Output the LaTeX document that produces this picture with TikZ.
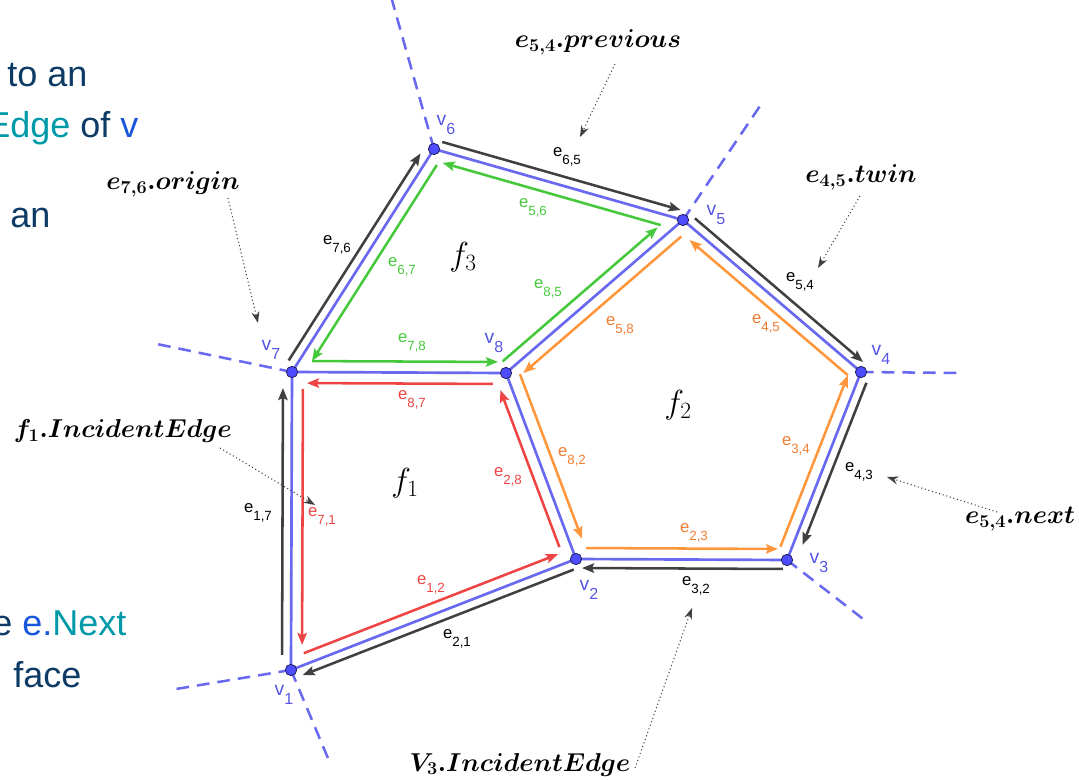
\RequirePackage{fix-cm}
\documentclass[tikz,border=0pt]{standalone}
\usepackage{fontspec}
\setsansfont{Liberation Sans}
\usepackage{bm}
\usetikzlibrary{calc,arrows.meta}
\pgfdeclarelayer{bg}
\pgfsetlayers{bg,main}
\definecolor{gblue}{RGB}{105,105,240}
\definecolor{gblack}{RGB}{64,64,64}
\definecolor{ggreen}{RGB}{70,200,60}
\definecolor{gred}{RGB}{238,68,68}
\definecolor{gorange}{RGB}{255,150,60}
\definecolor{gorangetxt}{RGB}{240,125,50}
\definecolor{vlab}{RGB}{85,85,230}
\definecolor{vfill}{RGB}{77,77,255}
\definecolor{vline}{RGB}{30,30,90}
\definecolor{navytxt}{RGB}{13,59,102}
\definecolor{tealtxt}{RGB}{0,153,168}
\definecolor{bluetxt}{RGB}{26,86,219}
\newcommand\esub[2]{#1\raisebox{-5.5pt}{\fontsize{10}{11}\selectfont #2}}
\newcommand\vsub[2]{#1\raisebox{-6.5pt}{\fontsize{12}{13}\selectfont #2}}
% half-edge: style, from, to, shorten start, shorten end, offset
\newcommand\hseg[6]{\draw[hedge,#1] ($(#2.center)!#4!(#3.center)!#6!90:(#3.center)$) -- ($(#3.center)!#5!(#2.center)!#6!-90:(#2.center)$);}
\tikzset{
  vert/.style={circle, fill=vfill, draw=vline, line width=0.6pt, inner sep=0pt, minimum size=8.5pt},
  medge/.style={gblue, line width=2pt},
  ext/.style={gblue, line width=1.9pt, dash pattern=on 9.5pt off 6pt},
  hedge/.style={line width=1.9pt, -{Stealth[length=9pt,width=7pt,inset=1.5pt]}},
  elab/.style={font=\sffamily\fontsize{12.5}{14}\selectfont, inner sep=0pt},
  vlabel/.style={font=\sffamily\fontsize{14.5}{16}\selectfont, inner sep=0pt, text=vlab},
  note/.style={font=\fontsize{19.4}{22}\selectfont, inner sep=0pt, anchor=base},
  pointer/.style={gblack, line width=0.8pt, dash pattern=on 0.8pt off 2pt, -{Stealth[length=8.5pt,width=6pt]}},
  facelab/.style={font=\fontsize{25}{28}\selectfont, inner sep=0pt},
  side/.style={font=\sffamily\fontsize{27}{30}\selectfont, anchor=base west, inner sep=0pt}
}
\begin{document}
\begin{tikzpicture}[x=0.75pt,y=-0.75pt]
\useasboundingbox (0,0) rectangle (1079,780);
% vertices
\node[vert] (v1) at (291,670) {};
\node[vert] (v2) at (576,559) {};
\node[vert] (v3) at (787,560) {};
\node[vert] (v4) at (861,372) {};
\node[vert] (v5) at (683,220) {};
\node[vert] (v6) at (434,149) {};
\node[vert] (v7) at (292,372) {};
\node[vert] (v8) at (506,373) {};
% free ends of the dashed rays
\coordinate (x6) at (392,0);
\coordinate (x5) at (760,106);
\coordinate (x4) at (958,373);
\coordinate (x3) at (867,622);
\coordinate (x1a) at (170,690);
\coordinate (x1b) at (330,763);
\coordinate (x7) at (152,343);
\begin{pgfonlayer}{bg}
\foreach \a/\b in {v1/x1a,v1/x1b,v7/x7,v6/x6,v5/x5,v4/x4,v3/x3}
  \draw[ext] (\a.center) -- (\b);
\foreach \a/\b in {v1/v7,v7/v6,v6/v5,v5/v4,v4/v3,v3/v2,v2/v1,v7/v8,v8/v5,v8/v2}
  \draw[medge] (\a.center) -- (\b.center);
% outer half-edges
\hseg{gblack}{v1}{v7}{11.25pt}{12pt}{6.75pt}
\hseg{gblack}{v7}{v6}{6pt}{8.25pt}{6.75pt}
\hseg{gblack}{v6}{v5}{4.5pt}{3.75pt}{6.75pt}
\hseg{gblack}{v5}{v4}{6pt}{3.75pt}{6.75pt}
\hseg{gblack}{v4}{v3}{6pt}{15pt}{6.75pt}
\hseg{gblack}{v3}{v2}{3pt}{4.5pt}{6.75pt}
\hseg{gblack}{v2}{v1}{4.5pt}{6.75pt}{6.75pt}
% f3
\hseg{ggreen}{v7}{v8}{15pt}{6pt}{8.25pt}
\hseg{ggreen}{v8}{v5}{3.75pt}{18pt}{8.25pt}
\hseg{ggreen}{v5}{v6}{15pt}{9pt}{8.25pt}
\hseg{ggreen}{v6}{v7}{9pt}{15pt}{8.25pt}
% f1
\hseg{gred}{v8}{v7}{9.75pt}{11.25pt}{8.25pt}
\hseg{gred}{v7}{v1}{12.75pt}{18.75pt}{8.25pt}
\hseg{gred}{v1}{v2}{13.5pt}{11.25pt}{8.25pt}
\hseg{gred}{v2}{v8}{12.75pt}{10.5pt}{8.5pt}
% f2
\hseg{gorange}{v8}{v2}{4.5pt}{12.75pt}{9.5pt}
\hseg{gorange}{v2}{v3}{7.5pt}{6.75pt}{8.25pt}
\hseg{gorange}{v3}{v4}{7.5pt}{6pt}{8.25pt}
\hseg{gorange}{v4}{v5}{6pt}{13.5pt}{8.25pt}
\hseg{gorange}{v5}{v8}{9pt}{9.75pt}{8.5pt}
\end{pgfonlayer}
% vertex labels
\node[vlabel] (l1) at (284,695) {\vsub{v}{1}};
\node[vlabel] (l2) at (589,590) {\vsub{v}{2}};
\node[vlabel] (l3) at (819,563) {\vsub{v}{3}};
\node[vlabel] (l4) at (881,355) {\vsub{v}{4}};
\node[vlabel] (l5) at (716,215) {\vsub{v}{5}};
\node[vlabel] (l6) at (446,125) {\vsub{v}{6}};
\node[vlabel] (l7) at (271,350) {\vsub{v}{7}};
\node[vlabel] (l8) at (494,343) {\vsub{v}{8}};
% edge labels
\node[elab, text=black] (e76) at (337,245) {\esub{e}{7,6}};
\node[elab, text=black] (e65) at (567,157) {\esub{e}{6,5}};
\node[elab, text=black] (e54) at (800,282) {\esub{e}{5,4}};
\node[elab, text=black] (e43) at (859,472) {\esub{e}{4,3}};
\node[elab, text=black] (e32) at (696,586) {\esub{e}{3,2}};
\node[elab, text=black] (e21) at (457,639) {\esub{e}{2,1}};
\node[elab, text=black] (e17) at (258,513) {\esub{e}{1,7}};
\node[elab, text=ggreen] (e56) at (533,208) {\esub{e}{5,6}};
\node[elab, text=ggreen] (e67) at (402,267) {\esub{e}{6,7}};
\node[elab, text=ggreen] (e78) at (412,343) {\esub{e}{7,8}};
\node[elab, text=ggreen] (e85) at (548,289) {\esub{e}{8,5}};
\node[elab, text=gred] (e87) at (412,400) {\esub{e}{8,7}};
\node[elab, text=gred] (e71) at (322,517) {\esub{e}{7,1}};
\node[elab, text=gred] (e12) at (431,585) {\esub{e}{1,2}};
\node[elab, text=gred] (e28) at (508,477) {\esub{e}{2,8}};
\node[elab, text=gorangetxt] (e58) at (620,326) {\esub{e}{5,8}};
\node[elab, text=gorangetxt] (e45) at (766,324) {\esub{e}{4,5}};
\node[elab, text=gorangetxt] (e82) at (572,457) {\esub{e}{8,2}};
\node[elab, text=gorangetxt] (e34) at (796,446) {\esub{e}{3,4}};
\node[elab, text=gorangetxt] (e23) at (694,533) {\esub{e}{2,3}};
% faces
\node[facelab] (f1) at (405,483) {$f_1$};
\node[facelab] (f2) at (678,405) {$f_2$};
\node[facelab] (f3) at (463,257) {$f_3$};
% annotations
\node[note] (prev) at (598,48) {$\bm{e_{5,4}.previous}$};
\node[note] (twin) at (861,183) {$\bm{e_{4,5}.twin}$};
\node[note] (orig) at (173,190) {$\bm{e_{7,6}.origin}$};
\node[note] (fine) at (123,438) {$\bm{f_1.IncidentEdge}$};
\node[note] (next) at (1020,524) {$\bm{e_{5,4}.next}$};
\node[note] (vine) at (520,771) {$\bm{V_3.IncidentEdge}$};
\coordinate (pprev) at (580,137);
\coordinate (ptwin) at (818,268);
\coordinate (porig) at (258,323);
\coordinate (pfine) at (315,505);
\coordinate (pnext) at (887,477);
\coordinate (pvine) at (692,608);
\draw[pointer] ($(prev.base)+(17,16)$) -- (pprev);
\draw[pointer] ($(twin.base)+(-1,13)$) -- (ptwin);
\draw[pointer] ($(orig.base)+(55,8)$) -- (porig);
\draw[pointer] ($(fine.base)+(97,10)$) -- (pfine);
\draw[pointer] ($(next.base)+(-23,-12)$) -- (pnext);
\draw[pointer] ($(vine.base)+(115,-3)$) -- (pvine);
% cut-off text at the left edge
\begin{scope}
\clip (0,0) rectangle (1079,780);
\node[side, text=navytxt] (t1) at (7,87) {to an};
\node[side] (t2) at (-14,138) {\textcolor{tealtxt}{Edge} \textcolor{navytxt}{of} \textcolor{bluetxt}{v}};
\node[side, text=navytxt] (t3) at (10,228) {an};
\node[side] (t4) at (-8,635) {\textcolor{navytxt}{e} \textcolor{bluetxt}{e.}\textcolor{tealtxt}{Next}};
\node[side, text=navytxt] (t5) at (13,687) {face};
\end{scope}
\end{tikzpicture}
\end{document}
